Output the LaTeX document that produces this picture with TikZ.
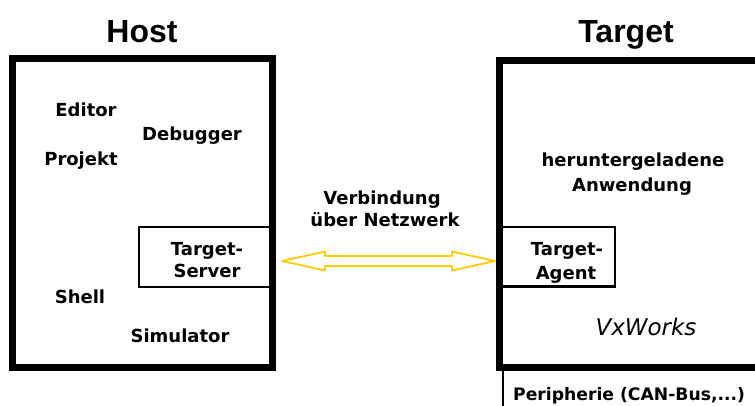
\documentclass[tikz,border=0pt]{standalone}
\usepackage{fontspec}
\usetikzlibrary{calc}
\newfontfamily\labfont{DejaVu Sans}
\newfontfamily\titfont{Liberation Sans}
\definecolor{arrowgold}{HTML}{FFCC00}
\begin{document}
\begin{tikzpicture}[x=1pt,y=-1pt,
  bigbox/.style={draw, rectangle, line width=7pt, inner sep=0pt, outer sep=0pt},
  smallbox/.style={draw, rectangle, line width=2.5pt, inner sep=0pt, outer sep=0pt},
  lab/.style={font=\labfont\bfseries\fontsize{18}{22}\selectfont, inner sep=0pt, anchor=base},
  itlab/.style={font=\labfont\itshape\fontsize{23}{26}\selectfont, inner sep=0pt, anchor=base},
  title/.style={font=\titfont\bfseries\fontsize{32}{36}\selectfont, inner sep=0pt, anchor=base},
  netarrow/.style={draw=arrowgold, fill=white, line width=1.8pt, line join=round}]
\useasboundingbox (0,0) rectangle (755,406);
\clip (0,0) rectangle (755,406);

% titles
\node[title] (thost) at (142,43) {Host};
\node[title] (ttarget) at (626,43) {Target};

% inner boxes
\node[smallbox, minimum width=133.5pt, minimum height=60pt] (ts) at (205.75,257) {};
\node[smallbox, minimum width=115.5pt, minimum height=59.5pt] (ta) at (557.25,256.75) {};

% outer boxes
\node[bigbox, minimum width=260pt, minimum height=308.5pt] (host) at (142.5,213.25) {};
\node[bigbox, minimum width=290.5pt, minimum height=306.5pt] (target) at (644.75,213.75) {};

% host labels
\node[lab] (editor) at (86,117) {Editor};
\node[lab] (debugger) at (192,141) {Debugger};
\node[lab] (projekt) at (81,166) {Projekt};
\node[lab] (ts1) at (207,255) {Target-};
\node[lab] (ts2) at (207,277) {Server};
\node[lab] (shell) at (80,303) {Shell};
\node[lab] (sim) at (180,342) {Simulator};

% target labels
\node[lab] (app1) at (633,167) {heruntergeladene};
\node[lab] (app2) at (632,192) {Anwendung};
\node[lab] (ta1) at (567,255) {Target-};
\node[lab] (ta2) at (566,279) {Agent};
\node[itlab] (vx) at (646,335) {VxWorks};

% network label
\node[lab] (net1) at (382,205) {Verbindung};
\node[lab] (net2) at (385,227) {über Netzwerk};

% arrow
\coordinate (aL) at (282,261);
\coordinate (aR) at (495,261);
\draw[netarrow] (aL) -- ++(43,-9.5) -- ++(0,4.5) -- ($(aR)+(-43,-5)$) -- ++(0,-4.5)
  -- (aR) -- ++(-43,9.5) -- ++(0,-4.5) -- ($(aL)+(43,5)$) -- ++(0,4.5) -- cycle;

% peripherals
\coordinate (pbot) at (503,412);
\draw[line width=2.5pt] (pbot |- target.south) -- (pbot);
\node[lab, anchor=base west, font=\labfont\bfseries\fontsize{17.2}{20}\selectfont] (peri) at (513,400) {Peripherie (CAN-Bus,...)};
\end{tikzpicture}
\end{document}
